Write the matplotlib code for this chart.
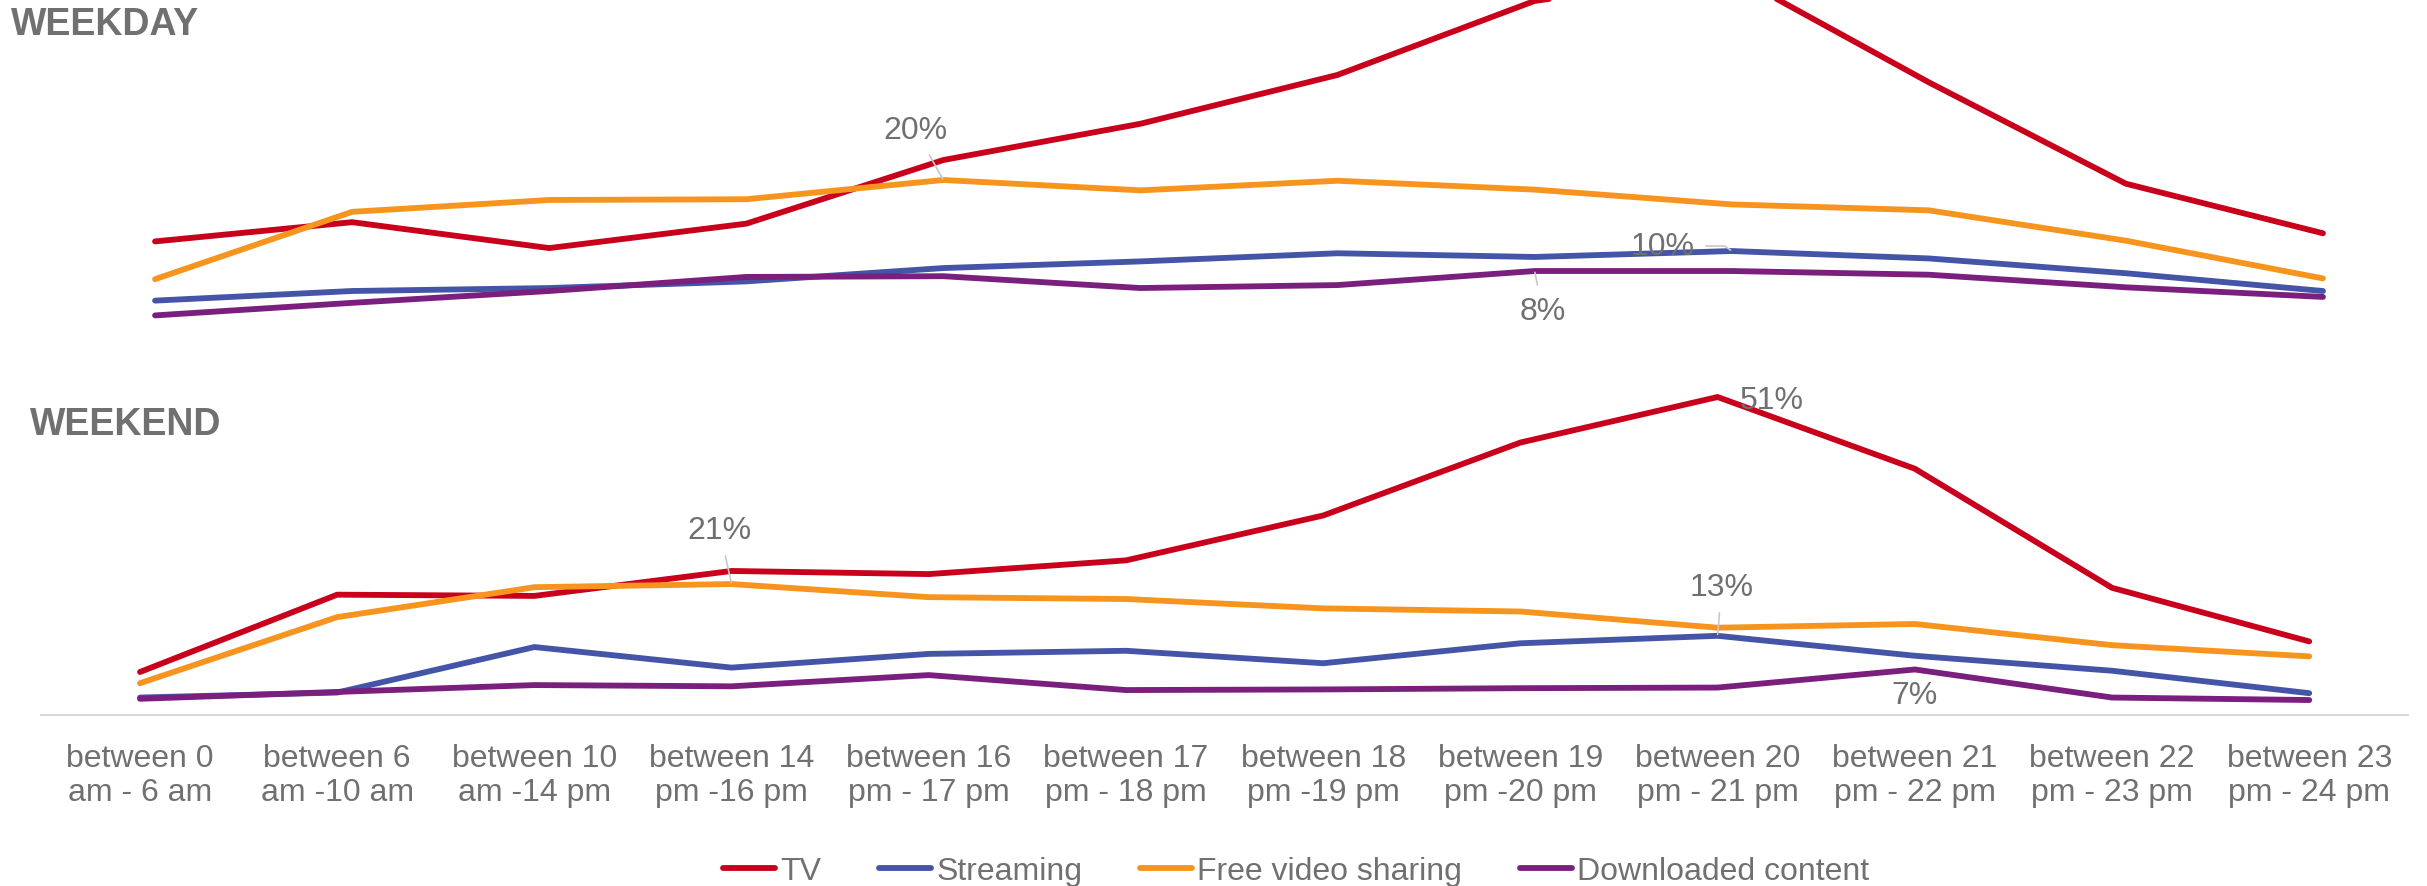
import matplotlib
matplotlib.use("Agg")
import matplotlib.pyplot as plt

plt.rcParams['font.family'] = ['Liberation Sans', 'DejaVu Sans']

categories = ["between 0\nam - 6 am", "between 6\nam -10 am", "between 10\nam -14 pm",
              "between 14\npm -16 pm", "between 16\npm - 17 pm", "between 17\npm - 18 pm",
              "between 18\npm -19 pm", "between 19\npm -20 pm", "between 20\npm - 21 pm",
              "between 21\npm - 22 pm", "between 22\npm - 23 pm", "between 23\npm - 24 pm"]

series_names = ["TV", "Streaming", "Free video sharing", "Downloaded content"]

# Weekday (%)
tv_wd = [11.7, 14.3, 10.8, 14.1, 22.7, 27.6, 34.2, 44.2, 47.8, 33.2, 19.5, 12.8]
streaming_wd = [3.7, 5.0, 5.4, 6.3, 8.1, 9.0, 10.1, 9.6, 10.4, 9.4, 7.4, 5.0]
free_wd = [6.6, 15.7, 17.3, 17.4, 20.0, 18.6, 19.9, 18.7, 16.7, 15.9, 11.8, 6.7]
downloaded_wd = [1.7, 3.4, 5.0, 6.9, 7.0, 5.4, 5.8, 7.7, 7.7, 7.2, 5.5, 4.2]

# Weekend (%)
tv_we = [6.9, 19.3, 19.1, 23.1, 22.6, 24.8, 32.0, 43.7, 51.0, 39.5, 20.4, 11.8]
streaming_we = [2.8, 3.6, 10.9, 7.6, 9.8, 10.3, 8.3, 11.5, 12.7, 9.5, 7.1, 3.5]
free_we = [5.1, 15.7, 20.5, 21.0, 18.9, 18.6, 17.1, 16.6, 14.0, 14.6, 11.2, 9.4]
downloaded_we = [2.6, 3.7, 4.8, 4.6, 6.4, 4.0, 4.1, 4.3, 4.4, 7.3, 2.8, 2.4]

colors = ['#C9001B', '#4454A6', '#F7941D', '#7A1F7D']
TEXT = '#707070'
LEADER = '#C8C8C8'
FS = 23

fig = plt.figure(figsize=(24.27, 8.87), dpi=100)
W, H = 2427, 887

def px_axes(left, top, width, height):
    return fig.add_axes([left / W, 1 - (top + height) / H, width / W, height / H])

x = list(range(len(categories)))

# Weekday axes: zero at y=329px, 7.4 px per %
wd_lo, wd_hi = -3, 329 / 7.4
ax1 = px_axes(56.5, 0, 2365, (wd_hi - wd_lo) * 7.4)
ax1.set_xlim(-0.5, 11.5)
ax1.set_ylim(wd_lo, wd_hi)
wd = [tv_wd, streaming_wd, free_wd, downloaded_wd]
for vals, c, n in zip(wd, colors, series_names):
    ax1.plot(x, vals, color=c, lw=4.2, solid_capstyle='round', solid_joinstyle='round', label=n)
ax1.axis('off')

# Weekend axes: zero at y=716px, 6.235 px per %
we_lo, we_hi = 0, 54
ax2 = px_axes(41.4, 716 - (we_hi - we_lo) * 6.235, 2366.4, (we_hi - we_lo) * 6.235)
ax2.set_xlim(-0.5, 11.5)
ax2.set_ylim(we_lo, we_hi)
we = [tv_we, streaming_we, free_we, downloaded_we]
lines = []
for vals, c, n in zip(we, colors, series_names):
    l, = ax2.plot(x, vals, color=c, lw=4.2, solid_capstyle='round', solid_joinstyle='round', label=n)
    lines.append(l)
for s in ['top', 'left', 'right']:
    ax2.spines[s].set_visible(False)
ax2.spines['bottom'].set_color('#D9D9D9')
ax2.spines['bottom'].set_linewidth(1.5)
ax2.set_yticks([])
ax2.set_xticks(x)
ax2.set_xticklabels(categories, fontsize=FS, color=TEXT, linespacing=1.15)
ax2.tick_params(axis='x', length=0, pad=20.5)

def label(ax, xi, vals, dx, dy, leader=True, conn=None):
    v = vals[xi]
    kw = {}
    if leader:
        kw['arrowprops'] = dict(arrowstyle='-', color=LEADER, lw=1.2, shrinkA=6, shrinkB=1,
                                connectionstyle=conn or 'arc3')
    ax.annotate(f"{round(v):.0f}%", xy=(xi, v), xytext=(dx, dy), textcoords='offset pixels',
                ha='center', va='center', fontsize=FS, color=TEXT, **kw)

# Weekday labels
label(ax1, 4, free_wd, -28, 50)
label(ax1, 8, streaming_wd, -69, 5, conn='angle,angleA=0,angleB=-36,rad=0')
label(ax1, 7, downloaded_wd, 8, -40)
# Weekend labels
label(ax2, 3, free_we, -12, 54)
label(ax2, 8, tv_we, 54, -3, leader=False)
label(ax2, 8, streaming_we, 4, 49)
label(ax2, 9, downloaded_we, 0, -26, leader=False)

fig.text(11 / W, 1 - 35 / H, "WEEKDAY", fontsize=27, fontweight='bold', color=TEXT,
         ha='left', va='baseline')
fig.text(30 / W, 1 - 435 / H, "WEEKEND", fontsize=27, fontweight='bold', color=TEXT,
         ha='left', va='baseline')

fig.legend(handles=lines, labels=series_names, loc='center', bbox_to_anchor=(0.534, 1 - 872 / H),
           ncol=4, frameon=False, fontsize=FS, handlelength=1.65, handletextpad=0.15,
           columnspacing=1.8, labelcolor=TEXT)

fig.savefig("out.png", dpi=100)
